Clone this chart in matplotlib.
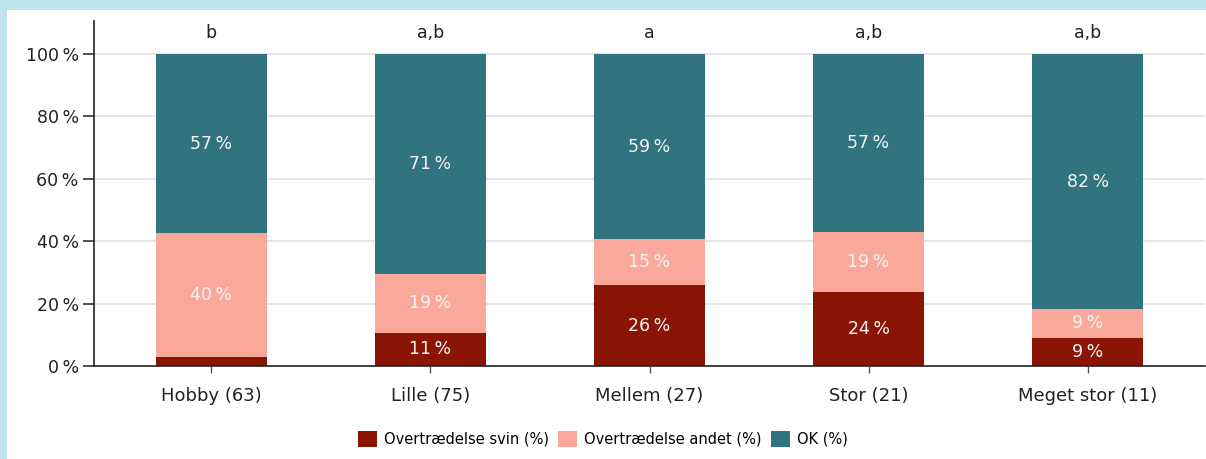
import matplotlib
matplotlib.use("Agg")
import matplotlib.pyplot as plt
from matplotlib.patches import Rectangle, Patch
import numpy as np

categories = ["Hobby (63)", "Lille (75)", "Mellem (27)", "Stor (21)", "Meget stor (11)"]
svin = [2.8, 10.7, 25.9, 23.8, 9.1]
andet = [39.8, 18.7, 14.8, 19.0, 9.1]
ok = [57.4, 70.6, 59.3, 57.2, 81.8]
letters = ["b", "a,b", "a", "a,b", "a,b"]
series_names = ["Overtrædelse svin (%)", "Overtrædelse andet (%)", "OK (%)"]
colors = ["#8B1505", "#FAA89C", "#31737F"]
yticks = [0, 20, 40, 60, 80, 100]

W, H = 1206, 459
fig = plt.figure(figsize=(W / 100, H / 100), dpi=100)
fig.patch.set_facecolor("#BFE6EE")
fig.patches.append(Rectangle((7 / W, 0), 1 - 7 / W, 1 - 10 / H, transform=fig.transFigure,
                             facecolor="white", edgecolor="none", zorder=-10))

ax = fig.add_axes([94 / W, (H - 366) / H, (1205 - 94) / W, (366 - 21) / H])
ax.set_facecolor("none")
x = np.arange(len(categories))
bw = 0.507
bottoms = np.zeros(len(categories))
for vals, col in zip([svin, andet, ok], colors):
    vals = np.array(vals)
    ax.bar(x, vals, bw, bottom=bottoms, color=col, zorder=2)
    for xi, b, v in zip(x, bottoms, vals):
        if v >= 5:
            ax.text(xi, b + v / 2, f"{int(round(v))}\u2009%", ha="center", va="center",
                    color="#F4F4F4", fontsize=12.5, zorder=3)
    bottoms += vals

for xi, t in zip(x, letters):
    ax.text(xi, 106.7, t, ha="center", va="center", fontsize=12.5, color="#222222")

ax.set_xlim(-0.536, 4.536)
ax.set_ylim(0, 110.6)
ax.set_yticks(yticks)
ax.set_yticklabels([f"{v}\u2009%" for v in yticks])
ax.set_xticks(x)
ax.set_xticklabels(categories)
ax.yaxis.grid(True, color="#E4E4E4", linewidth=1.4, zorder=0)
ax.set_axisbelow(True)
for s in ["top", "right"]:
    ax.spines[s].set_visible(False)
ax.spines["left"].set_color("#222222")
ax.spines["bottom"].set_color("#222222")
ax.spines["left"].set_linewidth(1.2)
ax.spines["bottom"].set_linewidth(1.2)
ax.tick_params(axis="y", length=8, width=1.2, color="#333333", labelsize=12.5, labelcolor="#222222", pad=3)
ax.tick_params(axis="x", length=5, width=1.0, color="#555555", labelsize=13, labelcolor="#222222", pad=10)

handles = [Patch(facecolor=c, edgecolor="none") for c in colors]
fig.legend(handles, series_names, loc="center", bbox_to_anchor=(603 / W, 1 - 439 / H), ncol=3,
           frameon=False, fontsize=10.5, handlelength=1.3, handleheight=1.3, handletextpad=0.5,
           columnspacing=0.6)

fig.savefig("out.png", dpi=100)
